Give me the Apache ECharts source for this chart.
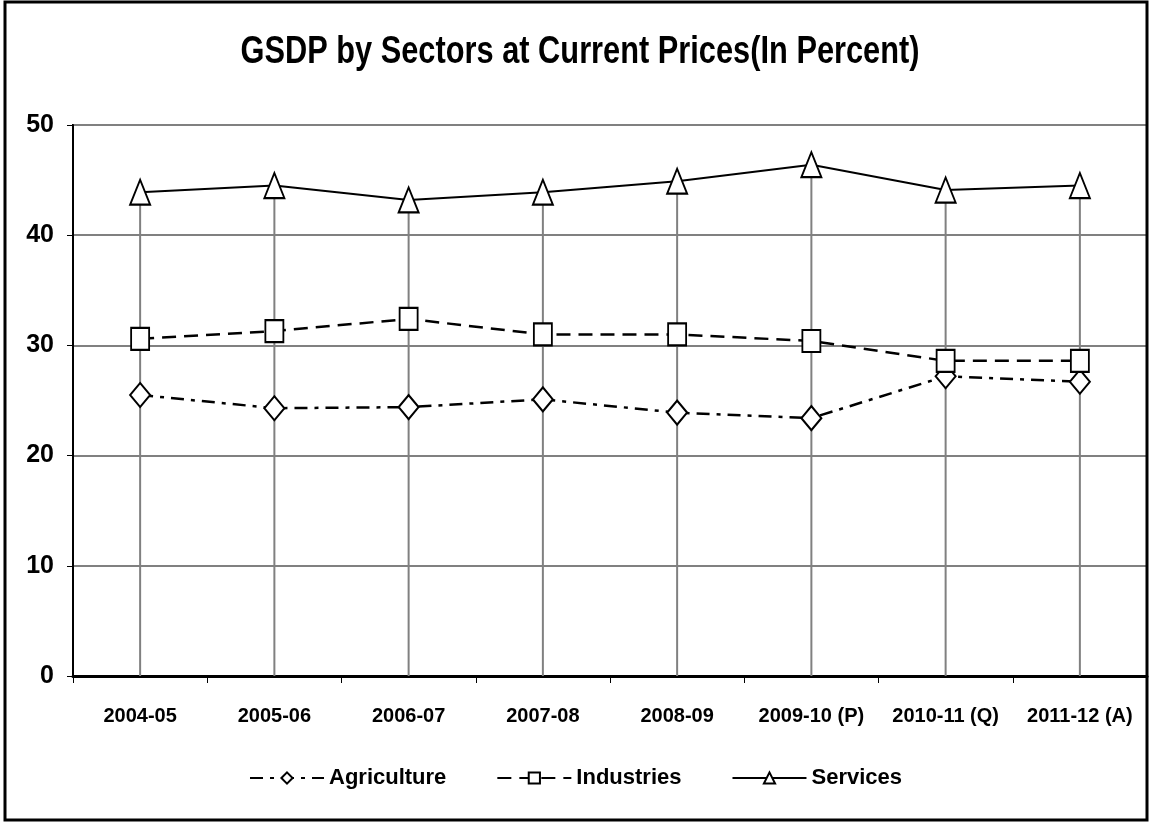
<!DOCTYPE html>
<html>
<head>
<meta charset="utf-8">
<script src="https://cdn.jsdelivr.net/npm/echarts@6/dist/echarts.min.js"></script>
<style>
html,body{margin:0;padding:0;background:#fff;}
#chart{width:1151px;height:822px;}
</style>
</head>
<body>
<div id="chart"></div>
<script>
const chartTitle = 'GSDP by Sectors at Current Prices(In Percent)';
const categories = ['2004-05','2005-06','2006-07','2007-08','2008-09','2009-10 (P)','2010-11 (Q)','2011-12 (A)'];
const agriculture = [25.5, 24.3, 24.4, 25.1, 23.9, 23.4, 27.2, 26.7];
const industries  = [30.6, 31.3, 32.4, 31.0, 31.0, 30.4, 28.6, 28.6];
const services    = [43.9, 44.5, 43.2, 43.9, 44.9, 46.4, 44.1, 44.5];
const yTicks = [0, 10, 20, 30, 40, 50];

const FONT = '"Liberation Sans Narrow", "Liberation Sans", Arial, sans-serif';
const dropTops = categories.map((c, i) => [i, Math.max(agriculture[i], industries[i], services[i])]);

const chart = echarts.init(document.getElementById('chart'), null, {renderer: 'canvas'});
const markerStyle = {color: '#fff', borderColor: '#000', borderWidth: 2};

chart.setOption({
  backgroundColor: '#fff',
  animation: false,
  graphic: [{
    type: 'rect', silent: true, z: 100,
    shape: {x: 5, y: 2, width: 1142, height: 818},
    style: {fill: 'none', stroke: '#000', lineWidth: 3}
  }, {
    type: 'text', silent: true, z: 100,
    x: 580, y: 53, scaleX: 0.81,
    style: {
      text: chartTitle,
      font: 'bold 38px ' + FONT,
      fill: '#000',
      align: 'center',
      verticalAlign: 'middle'
    }
  }],
  legend: {
    bottom: 28,
    left: 'center',
    itemWidth: 74,
    itemHeight: 14,
    itemGap: 50,
    textStyle: {fontFamily: FONT, fontWeight: 'bold', fontSize: 22, color: '#000'},
    data: ['Agriculture', 'Industries', 'Services']
  },
  grid: {
    left: 73, right: 4, top: 125, bottom: 146,
    show: true, borderColor: '#000', borderWidth: 2, containLabel: false
  },
  xAxis: {
    type: 'category',
    data: categories,
    boundaryGap: true,
    axisLine: {lineStyle: {color: '#000', width: 3}},
    axisTick: {show: true, length: 7, lineStyle: {color: '#000', width: 1}},
    axisLabel: {fontFamily: FONT, fontWeight: 'bold', fontSize: 20, color: '#000', margin: 30, interval: 0},
    splitLine: {show: false}
  },
  yAxis: {
    type: 'value',
    min: yTicks[0], max: yTicks[yTicks.length - 1], interval: 10,
    axisLine: {show: true, lineStyle: {color: '#000', width: 2}},
    axisTick: {show: true, length: 6, lineStyle: {color: '#000', width: 1}},
    axisLabel: {fontFamily: FONT, fontWeight: 'bold', fontSize: 25, color: '#000', margin: 19},
    splitLine: {show: true, lineStyle: {color: '#808080', width: 2}}
  },
  series: [
    {
      type: 'custom',
      name: 'drop',
      z: 1,
      silent: true,
      data: dropTops,
      renderItem: function (params, api) {
        const top = api.coord([api.value(0), api.value(1)]);
        const bot = api.coord([api.value(0), 0]);
        return {
          type: 'line',
          shape: {x1: top[0], y1: top[1], x2: bot[0], y2: bot[1]},
          style: {stroke: '#808080', lineWidth: 2}
        };
      }
    },
    {
      name: 'Agriculture', type: 'line', data: agriculture, z: 3,
      symbol: 'diamond', symbolSize: [20, 24], showAllSymbol: true,
      lineStyle: {color: '#000', width: 2.5, type: [13, 7, 4, 7]},
      itemStyle: markerStyle
    },
    {
      name: 'Industries', type: 'line', data: industries, z: 4,
      symbol: 'rect', symbolSize: [18, 22], showAllSymbol: true,
      lineStyle: {color: '#000', width: 2.5, type: [14, 8]},
      itemStyle: markerStyle
    },
    {
      name: 'Services', type: 'line', data: services, z: 5,
      symbol: 'triangle', symbolSize: [20, 25], showAllSymbol: true,
      lineStyle: {color: '#000', width: 2},
      itemStyle: markerStyle
    }
  ]
});
</script>
</body>
</html>
